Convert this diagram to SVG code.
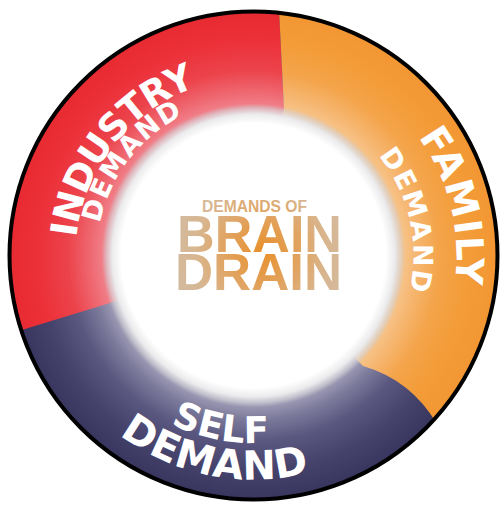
<svg xmlns="http://www.w3.org/2000/svg" xmlns:xlink="http://www.w3.org/1999/xlink" width="502" height="506" viewBox="0 0 502 506">
  <style>
    .lbl { font-family: "DejaVu Sans", "Liberation Sans", sans-serif; font-weight: bold; fill: #ffffff; }
    .ctr { font-family: "Liberation Sans", Arial, sans-serif; font-weight: bold; fill: url(#gText); text-anchor: middle; }
  </style>
  <defs>
    <clipPath id="ringClip"><circle cx="253.5" cy="255.5" r="244"/></clipPath>
    <radialGradient id="gRed" gradientUnits="userSpaceOnUse" cx="253.5" cy="255.5" r="244">
      <stop offset="0.58" stop-color="#F2909A"/>
      <stop offset="0.66" stop-color="#EF6C75"/>
      <stop offset="0.76" stop-color="#EC434B"/>
      <stop offset="0.88" stop-color="#EC3139"/>
      <stop offset="1" stop-color="#E82A31"/>
    </radialGradient>
    <radialGradient id="gOrange" gradientUnits="userSpaceOnUse" cx="253.5" cy="255.5" r="244">
      <stop offset="0.58" stop-color="#F8CC98"/>
      <stop offset="0.66" stop-color="#F6B874"/>
      <stop offset="0.76" stop-color="#F4A44A"/>
      <stop offset="0.88" stop-color="#F39C38"/>
      <stop offset="1" stop-color="#F29632"/>
    </radialGradient>
    <radialGradient id="gNavy" gradientUnits="userSpaceOnUse" cx="253.5" cy="255.5" r="244">
      <stop offset="0.58" stop-color="#AEACC3"/>
      <stop offset="0.67" stop-color="#7D7B9B"/>
      <stop offset="0.76" stop-color="#5A5880"/>
      <stop offset="0.88" stop-color="#45426B"/>
      <stop offset="1" stop-color="#38355E"/>
    </radialGradient>
    <radialGradient id="gDisk" gradientUnits="userSpaceOnUse" cx="253.5" cy="255.5" r="152">
      <stop offset="0" stop-color="#FFFFFF"/>
      <stop offset="0.87" stop-color="#FFFFFF"/>
      <stop offset="0.93" stop-color="#EBEBED"/>
      <stop offset="0.97" stop-color="#D6D5D9" stop-opacity="0.6"/>
      <stop offset="1" stop-color="#C8C7CC" stop-opacity="0"/>
    </radialGradient>
    <radialGradient id="gText" gradientUnits="userSpaceOnUse" cx="262" cy="252" r="95">
      <stop offset="0" stop-color="#E8902A"/>
      <stop offset="0.35" stop-color="#E2A15A"/>
      <stop offset="0.7" stop-color="#D8B690"/>
      <stop offset="1" stop-color="#D1BBA2"/>
    </radialGradient>
    <path id="pIndustry" d="M 87.9 320.7 A 178 178 0 0 1 279.8 79.5"/>
    <path id="pDemRed" d="M 108.45 315.58 A 157 157 0 0 1 273.99 99.85"/>
    <path id="pFamily" d="M 309.8 60.4 A 203 203 0 0 1 394.2 401.8"/>
    <path id="pDemOrange" d="M 300.3 102.5 A 160 160 0 0 1 362.6 372.5"/>
    <path id="pSelf" d="M 76.5 317.5 A 187.5 187.5 0 0 0 395.6 377.8"/>
    <path id="pDemNavy" d="M 41.5 327.7 A 224 224 0 0 0 422.0 403.1"/>
  </defs>

  <g id="ring" clip-path="url(#ringClip)">
    <g id="self-demand-segment">
      <rect x="0" y="0" width="502" height="506" fill="url(#gNavy)"/>
    </g>
    <g id="industry-demand-segment">
      <path d="M 253.5 255.5 L 110 303 L 25 329 L -20 343 L -20 -20 L 277.5 -20 L 279 10 L 284 108 Z" fill="url(#gRed)"/>
    </g>
    <g id="family-demand-segment">
      <path d="M 253.5 255.5 L 284 108 L 279 10 L 277.5 -20 L 520 -20 L 520 470 L 460 448 L 437 424 Q 411 380 363 366 Z" fill="url(#gOrange)"/>
    </g>
  </g>
  <circle id="border" cx="253.5" cy="255.5" r="244" fill="none" stroke="#000000" stroke-width="4"/>

  <g id="center">
    <circle cx="253.5" cy="255.5" r="152" fill="url(#gDisk)"/>
    <text class="ctr" x="254.5" y="211.5" font-size="16" textLength="105" lengthAdjust="spacingAndGlyphs">DEMANDS OF</text>
    <text class="ctr" x="259.5" y="252" font-size="51.5" textLength="165" lengthAdjust="spacingAndGlyphs">BRAIN</text>
    <text class="ctr" x="258.5" y="290" font-size="51.5" textLength="167" lengthAdjust="spacingAndGlyphs">DRAIN</text>
  </g>

  <g id="industry-demand">
    <text class="lbl" font-size="37"><textPath href="#pIndustry" xlink:href="#pIndustry" startOffset="50%" text-anchor="middle" textLength="203" lengthAdjust="spacing">INDUSTRY</textPath></text>
    <text class="lbl" font-size="27"><textPath href="#pDemRed" xlink:href="#pDemRed" startOffset="50%" text-anchor="middle" textLength="141" lengthAdjust="spacing">DEMAND</textPath></text>
  </g>
  <g id="family-demand">
    <text class="lbl" font-size="38"><textPath href="#pFamily" xlink:href="#pFamily" startOffset="50%" text-anchor="middle" textLength="155" lengthAdjust="spacing">FAMILY</textPath></text>
    <text class="lbl" font-size="27"><textPath href="#pDemOrange" xlink:href="#pDemOrange" startOffset="50%" text-anchor="middle" textLength="143" lengthAdjust="spacing">DEMAND</textPath></text>
  </g>
  <g id="self-demand">
    <text class="lbl" font-size="37"><textPath href="#pSelf" xlink:href="#pSelf" startOffset="50%" text-anchor="middle" textLength="101" lengthAdjust="spacing">SELF</textPath></text>
    <text class="lbl" font-size="40"><textPath href="#pDemNavy" xlink:href="#pDemNavy" startOffset="50%" text-anchor="middle" textLength="200" lengthAdjust="spacing">DEMAND</textPath></text>
  </g>
</svg>
